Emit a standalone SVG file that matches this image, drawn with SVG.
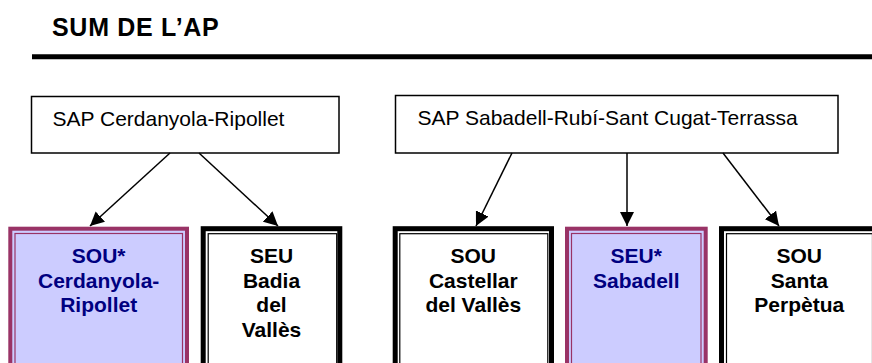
<svg xmlns="http://www.w3.org/2000/svg" width="872" height="363" viewBox="0 0 872 363">
<defs>
<marker id="ah" markerUnits="userSpaceOnUse" markerWidth="14" markerHeight="14" refX="14" refY="7" orient="auto">
<path d="M0,0 L14,7 L0,14 z" fill="#000"/>
</marker>
<style>
.t{font-family:"Liberation Sans",Arial,sans-serif}
.title{font-size:25px;font-weight:bold;letter-spacing:0.7px;fill:#000}
.sap{font-size:21px;fill:#000}
.sapbox{fill:#fff;stroke:#000;stroke-width:1.5}
.lbl{font-size:21px;font-weight:bold;text-anchor:middle;fill:#000}
.plbl{font-size:21px;font-weight:bold;text-anchor:middle;fill:#000080}
.bo{fill:#fff;stroke:#000;stroke-width:5}
.bi{fill:none;stroke:#000;stroke-width:1.2}
.po{fill:#CCCCFF;stroke:#993366;stroke-width:4}
.pi{fill:none;stroke:#993366;stroke-width:1.2}
.c{stroke:#000;stroke-width:1.5;fill:none;marker-end:url(#ah)}
</style>
</defs>
<text class="t title" x="52" y="35.5">SUM DE L’AP</text>
<line x1="32" y1="56.7" x2="872" y2="56.7" stroke="#000" stroke-width="5"/>

<g id="sap1">
<rect class="sapbox" x="31.5" y="96.5" width="307.5" height="56.5"/>
<text class="t sap" x="52.5" y="126">SAP Cerdanyola-Ripollet</text>
</g>
<g id="sap2">
<rect class="sapbox" x="395.5" y="95.5" width="442.5" height="57.5"/>
<text class="t sap" x="417.5" y="125">SAP Sabadell-Rubí-Sant Cugat-Terrassa</text>
</g>

<g id="connectors">
<line class="c" x1="170" y1="153" x2="90" y2="226"/>
<line class="c" x1="199" y1="153" x2="278" y2="226"/>
<line class="c" x1="512" y1="153" x2="476" y2="226"/>
<line class="c" x1="627" y1="153" x2="627" y2="226"/>
<line class="c" x1="723" y1="153" x2="779" y2="226"/>
</g>

<g id="sou-cerdanyola">
<rect class="po" x="10.3" y="228.7" width="176.7" height="160"/>
<rect class="pi" x="15" y="233.5" width="167.5" height="160"/>
<text class="t plbl" x="98.7" y="263.3">SOU*</text>
<text class="t plbl" x="98.7" y="288">Cerdanyola-</text>
<text class="t plbl" x="98.7" y="312.3">Ripollet</text>
</g>
<g id="seu-badia">
<rect class="bo" x="203.2" y="228.7" width="136.6" height="160"/>
<rect class="bi" x="208.2" y="233.7" width="128.5" height="160"/>
<text class="t lbl" x="271.5" y="263.3">SEU</text>
<text class="t lbl" x="271.5" y="287.5">Badia</text>
<text class="t lbl" x="271.5" y="312">del</text>
<text class="t lbl" x="271.5" y="337">Vallès</text>
</g>
<g id="sou-castellar">
<rect class="bo" x="395.2" y="228.7" width="156.3" height="160"/>
<rect class="bi" x="399.8" y="233.7" width="148" height="160"/>
<text class="t lbl" x="473.3" y="263.3">SOU</text>
<text class="t lbl" x="473.3" y="287.5">Castellar</text>
<text class="t lbl" x="473.3" y="312.3">del Vallès</text>
</g>
<g id="seu-sabadell">
<rect class="po" x="567" y="228.7" width="138.7" height="160"/>
<rect class="pi" x="571.5" y="233.5" width="129.5" height="160"/>
<text class="t plbl" x="636.3" y="263.3">SEU*</text>
<text class="t plbl" x="636.3" y="287.5">Sabadell</text>
</g>
<g id="sou-santa-perpetua">
<rect class="bo" x="721.5" y="228.7" width="156" height="160"/>
<rect class="bi" x="726.5" y="233.7" width="146" height="160"/>
<text class="t lbl" x="799.3" y="263.3">SOU</text>
<text class="t lbl" x="799.3" y="287.5">Santa</text>
<text class="t lbl" x="799.3" y="312.3">Perpètua</text>
</g>
</svg>
